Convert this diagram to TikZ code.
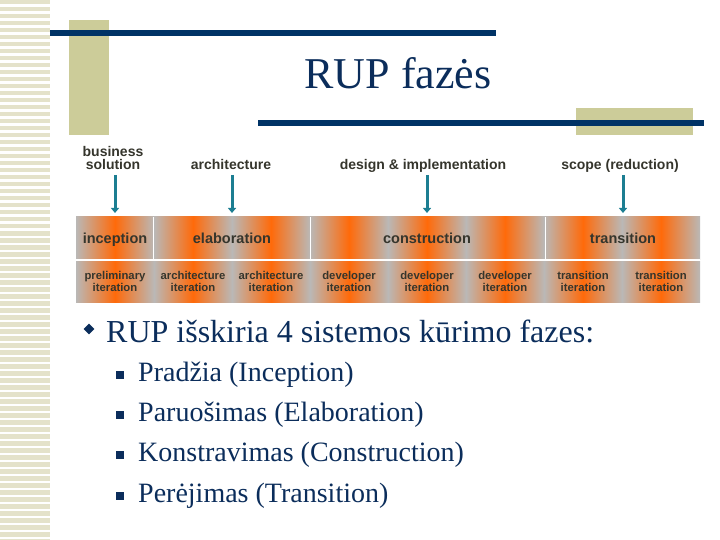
\documentclass[tikz,border=0pt]{standalone}
\usepackage{fontspec}
\setmainfont{Liberation Serif}
\setsansfont{Liberation Sans}
\usetikzlibrary{arrows.meta,positioning,shapes.geometric}
\definecolor{navyline}{HTML}{003366}
\definecolor{titlenavy}{HTML}{0B2D5B}
\definecolor{beigeblock}{HTML}{CCCC99}
\definecolor{stripebeige}{HTML}{E4E2CA}
\definecolor{phaseorange}{HTML}{FF6A0A}
\definecolor{phasegray}{HTML}{BAB8B6}
\definecolor{arrowteal}{HTML}{1C7E92}
\definecolor{labeldark}{HTML}{35352C}

\begin{document}
\begin{tikzpicture}[x=1pt,y=-1pt]
    \useasboundingbox (0,0) rectangle (720,540);

    % Left stripes
    \foreach \y in {0,7,...,539} {
        \fill[stripebeige] (0,\y) rectangle (50,\y+4.5);
    }

    % Title decoration
    \fill[beigeblock] (69,20) rectangle (109,135);
    \fill[navyline] (50,30) rectangle (496,36);
    \fill[beigeblock] (576,108) rectangle (693,135);
    \fill[navyline] (258,120) rectangle (704,126);
    \node[anchor=base, inner sep=0, font=\fontsize{44}{48}\selectfont, text=titlenavy] (title) at (398,89) {RUP fazės};

    % Phase row (shaded per iteration)
    \foreach \i in {1,...,8} {
        \shade[left color=phasegray, right color=phasegray, middle color=phaseorange] (78*\i-2,217) rectangle ++(78,42);
    }
    \draw[white, line width=1.5pt] (76,260) -- (700,260);
    \foreach \x in {153.5,310.5,545.5} {
        \draw[white, line width=1.2pt] (\x,217) -- (\x,259.5);
    }
    \coordinate (rowtop) at (0,213);

    % Phase names
    \foreach \n/\x in {inception/115, elaboration/232, construction/427, transition/623} {
        \node[anchor=base, inner sep=0, font=\sffamily\bfseries\fontsize{14.5}{16}\selectfont, text=labeldark] (\n) at (\x,243.5) {\n};
    }

    % Iterations
    \foreach \i/\t in {1/preliminary, 2/architecture, 3/architecture, 4/developer, 5/developer, 6/developer, 7/transition, 8/transition} {
        \node[minimum width=78pt, minimum height=41pt, inner sep=0, align=center,
              left color=phasegray, right color=phasegray, middle color=phaseorange,
              font=\sffamily\bfseries\fontsize{11.3}{12}\selectfont, text=labeldark] (it\i) at (78*\i+37,281.5) {\t\\iteration};
    }

    % Milestone labels
    \foreach \n/\x/\t in {bizlbl/113/business\\solution, archlbl/231/architecture, designlbl/423/design \& implementation, scopelbl/620/scope (reduction)} {
        \node[anchor=south, inner sep=0, text depth=0pt, align=center, font=\sffamily\bfseries\fontsize{14}{12.5}\selectfont, text=labeldark] (\n) at (\x,169.5) {\t};
    }

    % Milestone arrows
    \foreach \n/\p in {bizlbl/inception, archlbl/elaboration, designlbl/construction, scopelbl/transition} {
        \draw[-{Triangle[length=5pt,width=8pt]}, line width=3pt, arrowteal, shorten <=5.5pt] (\n.south -| \p) -- (rowtop -| \p);
    }

    % Bullets
    \node[diamond, fill=titlenavy, inner sep=0, minimum size=11pt] (mainbullet) at (89,329) {};
    \node[anchor=base west, inner sep=0, font=\fontsize{32}{36}\selectfont, text=titlenavy] (maintext) at (106,342) {RUP išskiria 4 sistemos kūrimo fazes:};
    \foreach \k/\y/\t in {1/381/Pradžia (Inception), 2/421/Paruošimas (Elaboration), 3/461/Konstravimas (Construction), 4/502/Perėjimas (Transition)} {
        \node[fill=titlenavy, inner sep=0, minimum size=8.5pt] (sq\k) at (120,\y-6) {};
        \node[anchor=base west, inner sep=0, font=\fontsize{28}{32}\selectfont, text=titlenavy] (item\k) at (138,\y) {\t};
    }
\end{tikzpicture}
\end{document}
